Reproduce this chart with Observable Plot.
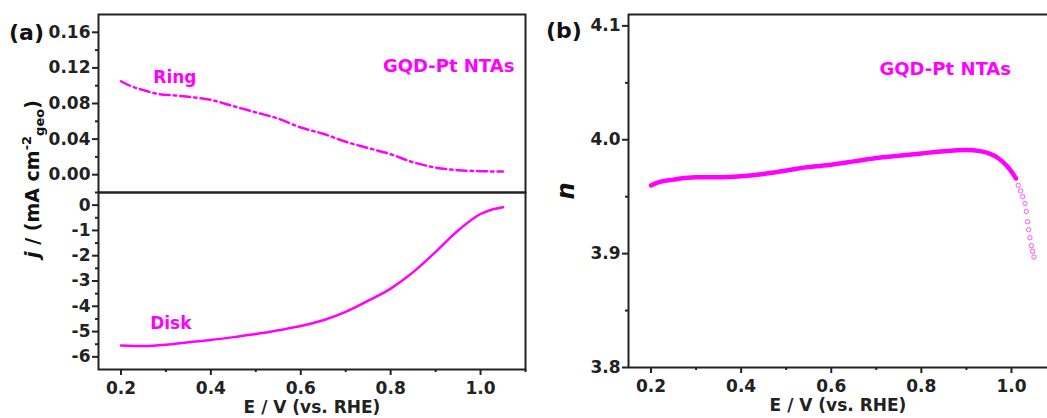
<!DOCTYPE html>
<html><head><meta charset="utf-8">
<script src="https://cdn.jsdelivr.net/npm/d3@7"></script>
<script src="https://cdn.jsdelivr.net/npm/@observablehq/plot@0.6"></script>
<style>
html,body{margin:0;padding:0;background:#fff;overflow:hidden}
#wrap{position:relative;width:1047px;height:418px;font-family:"DejaVu Sans",sans-serif;}
#wrap svg{position:absolute;background:transparent;}
</style></head><body><div id="wrap"></div>
<script>
// ---- data ----
const ringE = [0.20,0.22,0.25,0.28,0.32,0.36,0.40,0.45,0.50,0.55,0.60,0.65,0.70,0.75,0.80,0.85,0.90,0.95,1.00,1.05];
const ringJ = [0.105,0.100,0.095,0.091,0.089,0.087,0.084,0.077,0.070,0.063,0.053,0.046,0.037,0.030,0.023,0.014,0.008,0.005,0.004,0.0035];
const diskE = [0.20,0.25,0.30,0.35,0.40,0.45,0.50,0.55,0.60,0.65,0.70,0.75,0.80,0.85,0.90,0.95,1.00,1.03,1.05];
const diskJ = [-5.55,-5.57,-5.52,-5.42,-5.33,-5.22,-5.10,-4.95,-4.78,-4.55,-4.22,-3.78,-3.30,-2.65,-1.85,-1.00,-0.35,-0.15,-0.08];
const nE   = [0.20,0.22,0.25,0.30,0.35,0.40,0.45,0.50,0.55,0.60,0.65,0.70,0.75,0.80,0.85,0.90,0.93,0.95,0.97,0.99,1.00,1.01];
const nVal = [3.960,3.963,3.965,3.967,3.967,3.968,3.970,3.973,3.976,3.978,3.981,3.984,3.986,3.988,3.990,3.991,3.990,3.988,3.984,3.977,3.972,3.966];
const nTailE   = [1.015,1.020,1.025,1.030,1.033,1.036,1.038,1.041,1.044,1.047,1.050];
const nTailVal = [3.960,3.955,3.950,3.944,3.937,3.928,3.921,3.914,3.907,3.902,3.897];

const xTicks = [0.2,0.4,0.6,0.8,1.0];
const xMinor = [0.3,0.5,0.7,0.9,1.1];
const ringTicks = [0,0.04,0.08,0.12,0.16];
const ringMinor = [0.02,0.06,0.10,0.14];
const diskTicks = [0,-1,-2,-3,-4,-5,-6];
const diskMinor = [0.5,-0.5,-1.5,-2.5,-3.5,-4.5,-5.5];
const nTicks = [3.8,3.9,4.0,4.1];
const nMinor = [3.85,3.95,4.05];

const ringLabels = [{x:0.32, y:0.109, t:"Ring"},{x:0.929, y:0.122, t:"GQD-Pt NTAs"}];
const diskLabels = [{x:0.311, y:-4.67, t:"Disk"}];
const nLabels = [{x:0.853, y:4.0615, t:"GQD-Pt NTAs"}];

const MAG = "#ff00ff";
const INK = "#222";
const FONT = "DejaVu Sans";
const baseStyle = {fontFamily: FONT, fontSize: "17px", fontWeight: "bold", background: "transparent", overflow: "visible"};
const axisFont = {fontSize: 17, fontWeight: "bold", color: INK, strokeWidth: 2};

const ring = ringE.map((e,i)=>({e, j: ringJ[i]}));
const disk = diskE.map((e,i)=>({e, j: diskJ[i]}));
const nData = nE.map((e,i)=>({e, n: nVal[i]}));
const nTail = nTailE.map((e,i)=>({e, n: nTailVal[i]}));

const wrap = document.getElementById("wrap");
function place(svg, left, top){ svg.style.left = left+"px"; svg.style.top = top+"px"; wrap.appendChild(svg); }

// Panel (a) top: ring current
const pTop = Plot.plot({
  width: 540, height: 200,
  marginTop: 14, marginBottom: 8, marginLeft: 98, marginRight: 15,
  style: baseStyle,
  x: {domain: [0.15, 1.1], axis: null},
  y: {domain: [-0.02, 0.18]},
  marks: [
    Plot.axisY(ringTicks, {...axisFont, tickSize: 6, tickPadding: 2, tickFormat: ".2f", label: null}),
    Plot.axisY(ringMinor, {...axisFont, tickSize: 3, tickFormat: () => "", label: null}),
    Plot.line(ring, {x: "e", y: "j", stroke: MAG, strokeWidth: 2.5, strokeDasharray: "10,4,2.5,4", curve: "monotone-x"}),
    Plot.text(ringLabels, {x: "x", y: "y", text: "t", fill: MAG, fontSize: d => d.t === "Ring" ? 17 : 18, fontWeight: "bold"}),
    Plot.frame({stroke: INK, strokeWidth: 2})
  ]
});
place(pTop, 0, 0);

// Panel (a) bottom: disk current
const pBot = Plot.plot({
  width: 540, height: 234,
  marginTop: 8, marginBottom: 49, marginLeft: 98, marginRight: 15,
  style: baseStyle,
  x: {domain: [0.15, 1.1]},
  y: {domain: [-6.5, 0.5]},
  marks: [
    Plot.axisY(diskTicks, {...axisFont, tickSize: 6, tickPadding: 2, tickFormat: d => String(d), label: null}),
    Plot.axisY(diskMinor, {...axisFont, tickSize: 3, tickFormat: () => "", label: null}),
    Plot.axisX(xTicks, {...axisFont, tickSize: 6, tickPadding: 6, tickFormat: ".1f", label: "E / V (vs. RHE)", labelAnchor: "center", labelArrow: "none", labelOffset: 43}),
    Plot.axisX(xMinor, {...axisFont, tickSize: 3, tickFormat: () => "", label: null}),
    Plot.line(disk, {x: "e", y: "j", stroke: MAG, strokeWidth: 2.5, curve: "monotone-x"}),
    Plot.text(diskLabels, {x: "x", y: "y", text: "t", fill: MAG, fontSize: 17, fontWeight: "bold"}),
    Plot.frame({stroke: INK, strokeWidth: 2})
  ]
});
place(pBot, 0, 184);

// Panel (b): electron transfer number
const pB = Plot.plot({
  width: 507, height: 418,
  marginTop: 14, marginBottom: 51, marginLeft: 88, marginRight: 0,
  style: baseStyle,
  x: {domain: [0.15, 1.08]},
  y: {domain: [3.8, 4.11]},
  marks: [
    Plot.axisY(nTicks, {...axisFont, tickSize: 6, tickPadding: 2, tickFormat: ".1f", label: null}),
    Plot.axisY(nMinor, {...axisFont, tickSize: 3, tickFormat: () => "", label: null}),
    Plot.axisX(xTicks, {...axisFont, tickSize: 6, tickPadding: 6, tickFormat: ".1f", label: "E / V (vs. RHE)", labelAnchor: "center", labelArrow: "none", labelOffset: 43}),
    Plot.axisX(xMinor.filter(v => v < 1.08), {...axisFont, tickSize: 3, tickFormat: () => "", label: null}),
    Plot.line(nData, {x: "e", y: "n", stroke: MAG, strokeWidth: 4.5, curve: "monotone-x"}),
    Plot.dot(nTail, {x: "e", y: "n", r: 2.2, stroke: MAG, strokeOpacity: 0.65, strokeWidth: 1, fill: "none"}),
    Plot.text(nLabels, {x: "x", y: "y", text: "t", fill: MAG, fontSize: 18, fontWeight: "bold"}),
    Plot.ruleY([4.11], {stroke: INK, strokeWidth: 2}),
    Plot.ruleY([3.8], {stroke: INK, strokeWidth: 2}),
    Plot.ruleX([0.15], {stroke: INK, strokeWidth: 2})
  ]
});
place(pB, 540, 0);

// Overlay: panel letters and rich y-axis labels
const ov = d3.create("svg").attr("width", 1047).attr("height", 418)
  .style("left", "0px").style("top", "0px").style("pointer-events", "none")
  .attr("font-family", FONT).attr("font-weight", "bold").attr("fill", "#111");
ov.append("text").attr("x", 9).attr("y", 40).attr("font-size", 22).text("(a)");
ov.append("text").attr("x", 546).attr("y", 38).attr("font-size", 22).text("(b)");
const yl = ov.append("text").attr("transform", "translate(39,179) rotate(-90)")
  .attr("text-anchor", "middle").attr("font-size", 19);
yl.append("tspan").attr("font-style", "italic").text("j");
yl.append("tspan").text(" / (mA cm");
yl.append("tspan").attr("font-size", 13).attr("dy", -8).text("-2");
yl.append("tspan").attr("font-size", 13).attr("dy", 13).text("geo");
yl.append("tspan").attr("dy", -5).text(")");
ov.append("text").attr("transform", "translate(574,191) rotate(-90)")
  .attr("text-anchor", "middle").attr("font-size", 24).attr("font-style", "italic").text("n");
place(ov.node(), 0, 0);
</script></body></html>
